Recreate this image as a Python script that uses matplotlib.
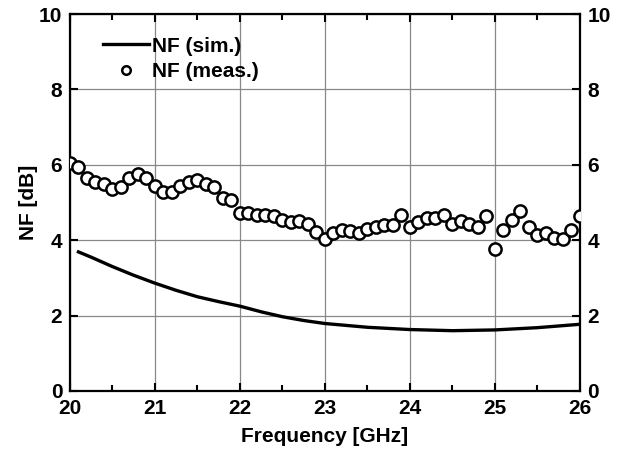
import numpy as np
import matplotlib
matplotlib.use('Agg')
import matplotlib.pyplot as plt
from matplotlib.ticker import MultipleLocator

plt.rcParams['font.family'] = ['Liberation Sans', 'DejaVu Sans']
plt.rcParams['font.weight'] = 'bold'

# Simulated NF
sim_freq = [20.1, 20.25, 20.5, 20.75, 21.0, 21.25, 21.5, 21.75, 22.0, 22.25,
            22.5, 22.75, 23.0, 23.5, 24.0, 24.5, 25.0, 25.5, 26.0]
sim_nf = [3.69, 3.55, 3.30, 3.07, 2.86, 2.67, 2.50, 2.37, 2.25, 2.10,
          1.97, 1.87, 1.79, 1.69, 1.63, 1.60, 1.62, 1.68, 1.77]

# Measured NF (20.0 to 26.0 GHz, 0.1 GHz step)
meas_freq = [round(20.0 + 0.1 * i, 1) for i in range(61)]
meas_nf = [6.05, 5.93, 5.64, 5.55, 5.49, 5.35, 5.42, 5.64, 5.76, 5.64,
           5.44, 5.29, 5.29, 5.44, 5.55, 5.60, 5.48, 5.40, 5.11, 5.07,
           4.71, 4.73, 4.67, 4.67, 4.64, 4.55, 4.49, 4.51, 4.42, 4.23,
           4.02, 4.20, 4.27, 4.24, 4.18, 4.29, 4.34, 4.40, 4.40, 4.67,
           4.34, 4.49, 4.58, 4.60, 4.68, 4.44, 4.51, 4.44, 4.36, 4.64,
           3.76, 4.27, 4.54, 4.78, 4.34, 4.15, 4.20, 4.07, 4.02, 4.27,
           4.65]

fig = plt.figure(figsize=(6.27, 4.55), dpi=100)
ax = fig.add_axes([0.1116, 0.1407, 0.8134, 0.8283])

ax.plot(sim_freq, sim_nf, color='black', lw=2.4, label='NF (sim.)', zorder=3)
ax.plot(meas_freq, meas_nf, 'o', ms=8.8, mfc='white', mec='black', mew=1.8,
        label='NF (meas.)', zorder=4)

ax.set_xlim(20, 26)
ax.set_ylim(0, 10)
ax.xaxis.set_major_locator(MultipleLocator(1))
ax.xaxis.set_minor_locator(MultipleLocator(0.5))
ax.yaxis.set_major_locator(MultipleLocator(2))
ax.grid(True, which='major', color='#888888', lw=0.9)
ax.set_axisbelow(True)

ax.tick_params(which='both', direction='in', top=True, right=True,
               labelright=True, labelsize=15, width=1.5)
ax.tick_params(which='major', length=6)
ax.tick_params(which='minor', length=4)
ax.tick_params(axis='x', pad=6)
ax.tick_params(axis='y', pad=5.5)
for lbl in ax.get_xticklabels() + ax.get_yticklabels():
    lbl.set_fontweight('bold')
for s in ax.spines.values():
    s.set_linewidth(1.6)

ax.set_xlabel('Frequency [GHz]', fontsize=15, fontweight='bold', labelpad=6)
ax.set_ylabel('NF [dB]', fontsize=15, fontweight='bold', labelpad=1)

leg = ax.legend(loc='upper left', bbox_to_anchor=(0.065, 0.94), frameon=False,
                fontsize=15, handlelength=2.2, handletextpad=0.15,
                borderaxespad=0, borderpad=0, labelspacing=0.3,
                markerscale=0.7)
for t in leg.get_texts():
    t.set_fontweight('bold')

fig.savefig('out.png', dpi=100)
